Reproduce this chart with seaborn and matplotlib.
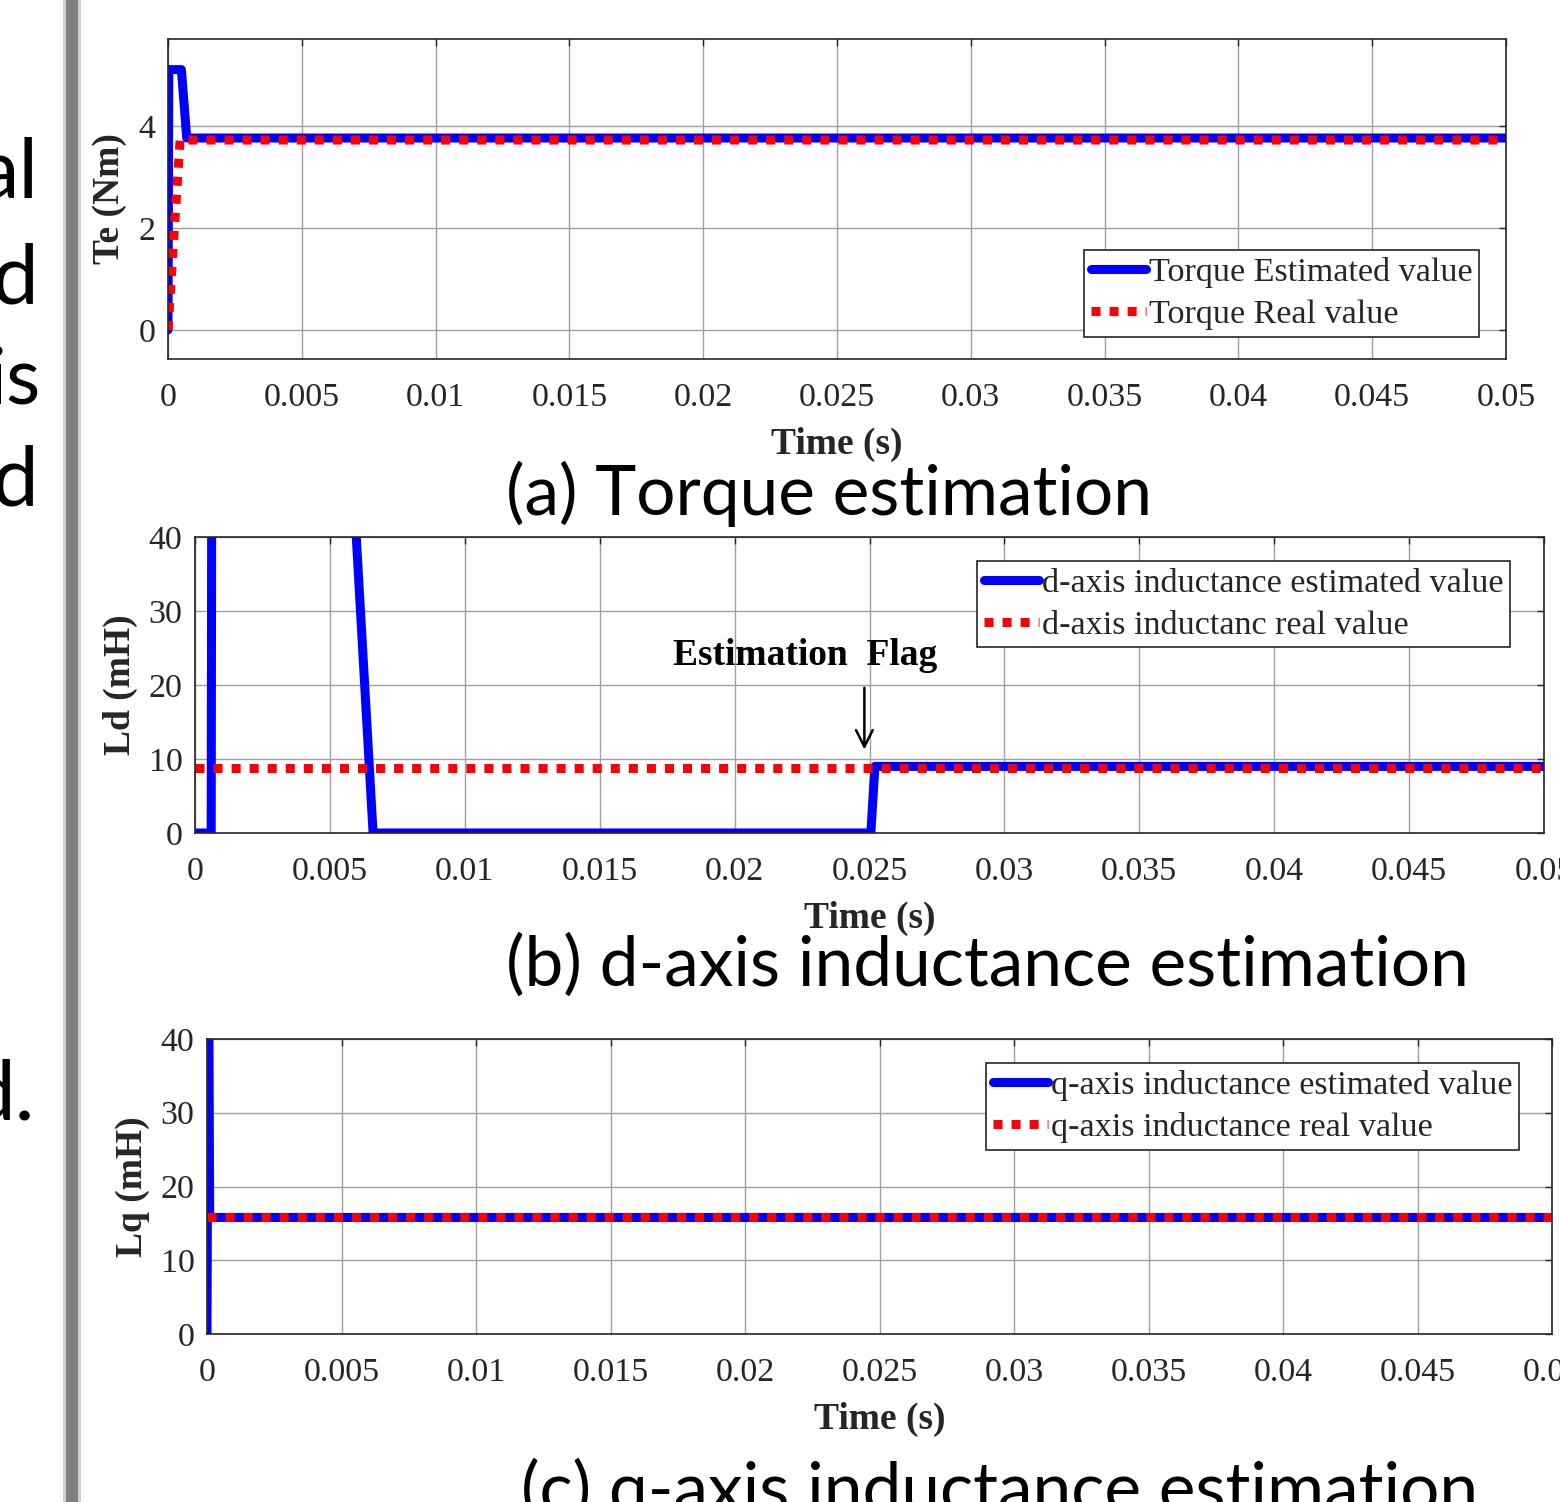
import matplotlib
matplotlib.use("Agg")
import matplotlib.pyplot as plt
from matplotlib.patches import Rectangle
import seaborn as sns

# ─── Data ────────────────────────────────────────────────────────────────────
torque_t_est  = [0, 0.00003, 0.0005, 0.0007, 0.05]
torque_est    = [0, 5.1, 5.1, 3.76, 3.76]
torque_t_real = [0, 0.00045, 0.05]
torque_real   = [0, 3.72, 3.72]

ld_t_est  = [0, 0.0006, 0.00065, 0.0059, 0.0066, 0.02505, 0.0252, 0.05]
ld_est    = [0, 0, 120, 45, 0, 0, 9.0, 9.0]
ld_t_real = [0, 0.05]
ld_real   = [8.8, 8.8]

lq_t_est  = [0, 0.00005, 0.0001, 0.05]
lq_est    = [0, 60, 15.8, 15.8]
lq_t_real = [0, 0.05]
lq_real   = [15.8, 15.8]

time_ticks  = [0, 0.005, 0.01, 0.015, 0.02, 0.025, 0.03, 0.035, 0.04, 0.045, 0.05]
time_labels = ["0", "0.005", "0.01", "0.015", "0.02", "0.025",
               "0.03", "0.035", "0.04", "0.045", "0.05"]

captions = ["(a) Torque estimation",
            "(b) d-axis inductance estimation",
            "(c) q-axis inductance estimation"]
side_words = ["al", "d", "is", "d", "d."]

# ─── Style ───────────────────────────────────────────────────────────────────
sns.set_style("white")
plt.rcParams["font.family"] = ["Liberation Serif", "DejaVu Serif"]

W, H, DPI = 1560, 1502, 100
fig = plt.figure(figsize=(W / DPI, H / DPI), dpi=DPI)
fig.patch.set_facecolor("white")

BLUE, RED, INK = "#0000FF", "#FF0000", "#262626"
LW = 6.5
DOTS = (0, (1.0, 1.0))


def px_axes(l, t, r, b):
    return fig.add_axes([l / W, 1 - b / H, (r - l) / W, (b - t) / H])


def fig_xy(x, y):
    return x / W, 1 - y / H


def panel(ax, t_est, v_est, t_real, v_real, ylim, yticks, ylabel,
          lab_est, lab_real, leg_xy, ylabelpad):
    sns.lineplot(x=t_est, y=v_est, ax=ax, color=BLUE, linewidth=LW,
                 estimator=None, sort=False, label=lab_est,
                 solid_joinstyle="round")
    sns.lineplot(x=t_real, y=v_real, ax=ax, color=RED, linewidth=LW,
                 estimator=None, sort=False, label=lab_real,
                 linestyle=DOTS, dash_capstyle="butt")
    ax.set_xlim(0, 0.05)
    ax.set_ylim(*ylim)
    ax.set_xticks(time_ticks)
    ax.set_xticklabels(time_labels)
    ax.set_yticks(yticks)
    ax.grid(True, color="#a0a0a0", linewidth=1.0)
    ax.set_axisbelow(True)
    for sp in ax.spines.values():
        sp.set_color(INK)
        sp.set_linewidth(1.2)
        sp.set_visible(True)
    ax.tick_params(direction="in", top=True, right=True, length=5,
                   width=1, colors=INK, labelsize=24.5)
    ax.tick_params(axis="x", pad=17)
    ax.tick_params(axis="y", pad=9)
    ax.set_xlabel("Time (s)", fontsize=27, fontweight="bold", color=INK,
                  labelpad=10)
    ax.set_ylabel(ylabel, fontsize=27, fontweight="bold", color=INK,
                  labelpad=ylabelpad)
    leg = ax.legend(loc="upper left", bbox_to_anchor=fig_xy(*leg_xy),
                    bbox_transform=fig.transFigure, fontsize=24.6,
                    frameon=True, fancybox=False, framealpha=1,
                    edgecolor=INK, borderpad=0.2, borderaxespad=0,
                    handlelength=1.6, handletextpad=0.1, labelspacing=0.32)
    leg.get_frame().set_linewidth(1.2)


# (a) torque
ax_a = px_axes(168, 39, 1506, 359)
panel(ax_a, torque_t_est, torque_est, torque_t_real, torque_real,
      (-0.57, 5.7), [0, 2, 4], "Te (Nm)",
      "Torque Estimated value", "Torque Real value", (1084, 250), 8)

# (b) d-axis inductance
ax_b = px_axes(195, 537, 1544, 833)
panel(ax_b, ld_t_est, ld_est, ld_t_real, ld_real,
      (0, 40), [0, 10, 20, 30, 40], "Ld (mH)",
      "d-axis inductance estimated value", "d-axis inductanc real value",
      (977, 561), 8)
ax_b.annotate("", xy=(0.02481, 10.9), xytext=(0.02481, 20.0),
              arrowprops=dict(arrowstyle="->", color="black", lw=1.8,
                              mutation_scale=30))
ax_b.text(0.02263, 24.0, "Estimation  Flag", ha="center", va="center",
          fontsize=27, fontweight="bold", color="black")

# (c) q-axis inductance
ax_c = px_axes(207, 1039, 1552, 1334)
panel(ax_c, lq_t_est, lq_est, lq_t_real, lq_real,
      (0, 40), [0, 10, 20, 30, 40], "Lq (mH)",
      "q-axis inductance estimated value", "q-axis inductance real value",
      (986, 1063), 8)

# ─── Slide decorations: captions, clipped side text, divider bar ─────────────
cap_pos = [(829, 515), (987, 986), (1000, 1512)]
for txt, (x, y) in zip(captions, cap_pos):
    fig.text(*fig_xy(x, y), txt, ha="center", va="baseline",
             fontsize=50, family=["Lato", "DejaVu Sans"], color="black")

side_pos = [(38, 198), (38, 303), (41, 403), (38, 505), (35, 1120)]
side_size = [60, 60, 57, 60, 60]
for txt, (x, y), fs in zip(side_words, side_pos, side_size):
    fig.text(*fig_xy(x, y), txt, ha="right", va="baseline",
             fontsize=fs, family=["Lato", "DejaVu Sans"], color="black")

fig.patches.append(Rectangle(fig_xy(63, H), 18 / W, 1, transform=fig.transFigure,
                             facecolor="#d0d0d0", edgecolor="none"))
fig.patches.append(Rectangle(fig_xy(66, H), 12 / W, 1, transform=fig.transFigure,
                             facecolor="#808080", edgecolor="none"))

fig.savefig("out.png", dpi=DPI)
